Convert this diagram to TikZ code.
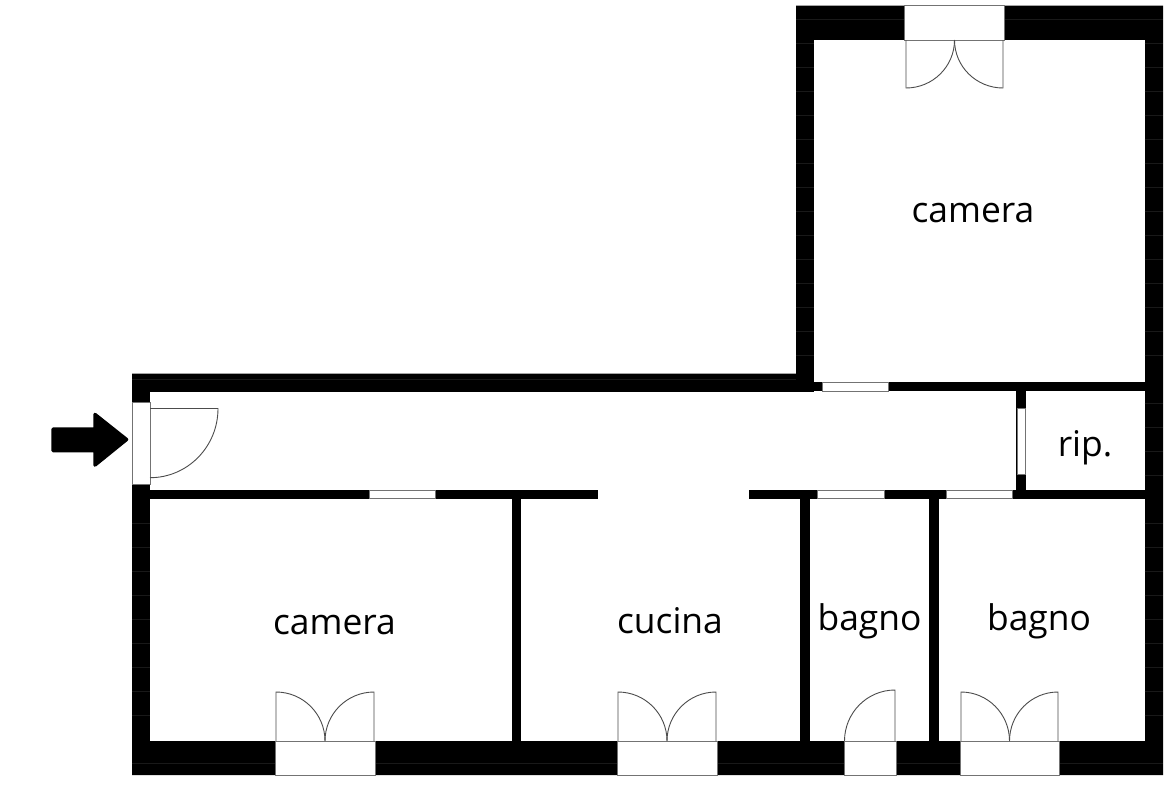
\documentclass[tikz,border=0pt]{standalone}
\usepackage{fontspec}
\setmainfont{Open Sans}
\newcommand{\leafdoor}[6]{% centre, free end of the leaf, arc end
  \pgfmathsetmacro{\cax}{#3+0.5523*(#5-#1)}
  \pgfmathsetmacro{\cay}{#4+0.5523*(#6-#2)}
  \pgfmathsetmacro{\cbx}{#5+0.5523*(#3-#1)}
  \pgfmathsetmacro{\cby}{#6+0.5523*(#4-#2)}
  \draw[doorline] (#1,#2) -- (#3,#4) .. controls (\cax,\cay) and (\cbx,\cby) .. (#5,#6);
}
\tikzset{
  wallfill/.style={fill=black,draw=none},
  roomfill/.style={fill=white,draw=none},
  winbox/.style={fill=white,draw=black!55,line width=0.8pt},
  doorline/.style={draw=black!70,line width=0.9pt},
  seam/.style={draw=black!90,line width=0.4pt},
  roomlabel/.style={anchor=base,font=\fontsize{35.4}{35.4}\selectfont,text=black,inner sep=0pt}
}
\begin{document}
\begin{tikzpicture}[x=1pt,y=-1pt]
\useasboundingbox (0,0) rectangle (1170,785);
\fill[white] (0,0) rectangle (1170,785);
% outer mass
\path[wallfill] (796,5.5) -- (1163,5.5) -- (1163,775) -- (132,775) -- (132,373.5) -- (796,373.5) -- cycle;
% rooms
\path[roomfill] (814,40) rectangle (1144.5,382);
\path[roomfill] (150,391.5) rectangle (814,490);
\path[roomfill] (814,391) rectangle (1016,490);
\path[roomfill] (1026,391) rectangle (1144.5,490);
\path[roomfill] (598,489) rectangle (749,500);
\path[roomfill] (150,499) rectangle (512,740.5);
\path[roomfill] (521,499) rectangle (800,740.5);
\path[roomfill] (810,499) rectangle (929,740.5);
\path[roomfill] (939,499) rectangle (1144.5,740.5);
% faint seams in the walls
\foreach \yy in {43,67,91,115,139,163,187,211,235,259,283,307,331,355}{
  \draw[seam] (796,\yy) -- (814,\yy);
  \draw[seam] (1144.5,\yy) -- (1163,\yy);
}
\draw[seam] (796,19) -- (905,19);
\draw[seam] (1004,19) -- (1163,19);
\foreach \yy in {403,427,451,475}{\draw[seam] (1144.5,\yy) -- (1163,\yy);}
\foreach \yy in {523,547,571,595,619,643,667,691,715}{
  \draw[seam] (132,\yy) -- (150,\yy);
  \draw[seam] (1144.5,\yy) -- (1163,\yy);
}
\draw[seam] (132,763) -- (275,763);
\draw[seam] (375,763) -- (617,763);
\draw[seam] (717,763) -- (844,763);
\draw[seam] (896,763) -- (960,763);
\draw[seam] (1059,763) -- (1163,763);
\draw[seam] (132,379) -- (796,379);
% windows and French doors
\draw[winbox] (904.5,5.5) rectangle (1004,40);
\draw[winbox] (132,402) rectangle (150,484);
\draw[winbox] (822,382.5) rectangle (888,391);
\draw[winbox] (1017,408) rectangle (1025,474.7);
\draw[winbox] (369,490.5) rectangle (435,498.8);
\draw[winbox] (817,490.5) rectangle (884,498.8);
\draw[winbox] (946,490.5) rectangle (1012,498.8);
\draw[winbox] (275,741) rectangle (375,775);
\draw[winbox] (617,741) rectangle (717,775);
\draw[winbox] (844,741) rectangle (896,775);
\draw[winbox] (960,741) rectangle (1059,775);
% door leaves
\leafdoor{906}{40}{906}{88}{954.5}{40}
\leafdoor{1003}{40}{1003}{88}{954.5}{40}
\leafdoor{150}{408.5}{218}{408.5}{150}{477.7}
\leafdoor{276}{741}{276}{692}{325}{741}
\leafdoor{374}{741}{374}{692}{325}{741}
\leafdoor{618}{741}{618}{692}{667}{741}
\leafdoor{716}{741}{716}{692}{667}{741}
\leafdoor{895}{741}{895}{690}{844.5}{741}
\leafdoor{961}{741}{961}{692}{1009.5}{741}
\leafdoor{1058}{741}{1058}{692}{1009.5}{741}
% entrance arrow
\fill[black,draw=black,line width=3.5pt,line join=round]
  (53,429) -- (95,429) -- (95,414.5) -- (126.5,439.5) -- (95,465) -- (95,450.5) -- (53,450.5) -- cycle;
% labels
\node[roomlabel] (camtop) at (973,222.5) {camera};
\node[roomlabel] (camleft) at (334.5,634) {camera};
\node[roomlabel] (cucina) at (670,633) {cucina};
\node[roomlabel] (bagnoa) at (869.5,630) {bagno};
\node[roomlabel] (bagnob) at (1039,630) {bagno};
\node[roomlabel] (rip) at (1085,456.5) {rip.};
\end{tikzpicture}
\end{document}
